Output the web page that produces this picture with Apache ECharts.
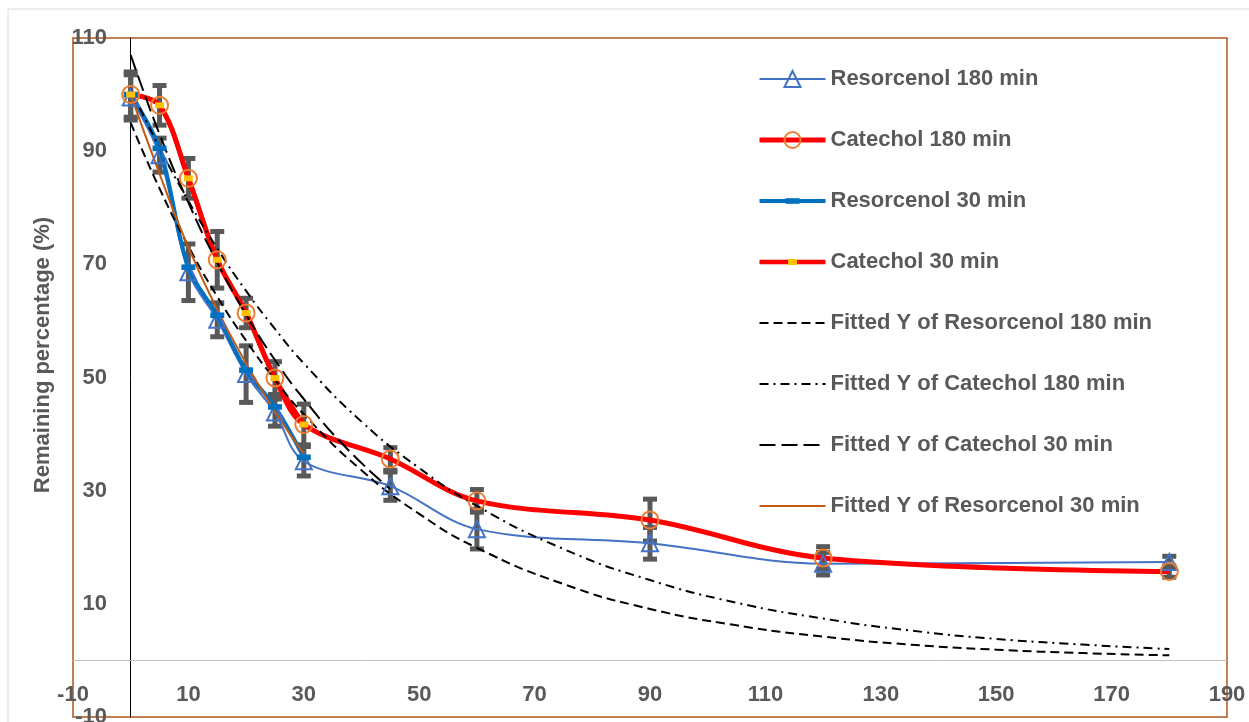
<!DOCTYPE html>
<html>
<head>
<meta charset="utf-8">
<script src="https://cdn.jsdelivr.net/npm/echarts@6/dist/echarts.min.js"></script>
<style>
html,body{margin:0;padding:0;background:#fff;}
#c{width:1249px;height:722px;}
</style>
</head>
<body>
<div id="c"></div>
<script>
// ---- data ----
const xs = [0, 5, 10, 15, 20, 25, 30, 45, 60, 90, 120, 180];
const resorcenol180 = [99.5, 89.3, 68.6, 60.2, 50.6, 43.8, 35.2, 30.8, 23.2, 20.7, 17.1, 17.4];
const catechol180 = [100, 98.1, 85.2, 70.8, 61.4, 49.9, 41.7, 35.6, 28.2, 24.8, 18.1, 15.7];
const resorcenol180Err = [4, 3, 5, 3, 5, 2.4, 2.6, 2.5, 3.5, 2.8, 2, 1];
const catechol180Err = [4, 3.5, 3.5, 5, 2.6, 2.9, 3.6, 2, 2, 3.7, 2, 1];

const xs30 = [0, 5, 10, 15, 20, 25, 30];
const resorcenol30 = [100, 90.5, 69.5, 61.0, 51.3, 44.8, 35.9];
const catechol30 = [100, 98.1, 85.2, 70.8, 61.4, 49.9, 41.7];

const fitX180 = [0, 5, 10, 15, 20, 25, 30, 40, 50, 60, 75, 90, 105, 120, 135, 150, 165, 180];
const fitResorcenol180 = [95, 83.4, 73.2, 64.3, 56.5, 49.6, 43.5, 33.6, 25.9, 19.9, 13.5, 9.1, 6.2, 4.2, 2.8, 1.9, 1.3, 0.9];
const fitCatechol180 = [101, 90.6, 81.2, 72.8, 65.3, 58.6, 52.5, 42.2, 34.0, 27.3, 19.7, 14.2, 10.2, 7.4, 5.3, 3.8, 2.8, 2.0];
const fitXCatechol30 = [0, 5, 10, 15, 20, 25, 30, 37.5, 45];
const fitCatechol30 = [107, 93.0, 80.9, 70.3, 61.1, 53.1, 46.2, 37.4, 30.3];
const fitXResorcenol30 = [0, 5, 10, 15, 20, 25, 30];
const fitResorcenol30 = [100, 86, 73, 62, 52.5, 44, 36.5];

const xTickLabels = [-10, 10, 30, 50, 70, 90, 110, 130, 150, 170, 190];
const yTickLabels = [-10, 10, 30, 50, 70, 90, 110];

const names = [
  'Resorcenol 180 min', 'Catechol 180 min', 'Resorcenol 30 min', 'Catechol 30 min',
  'Fitted Y of Resorcenol 180 min', 'Fitted Y of Catechol 180 min',
  'Fitted Y of Catechol 30 min', 'Fitted Y of Resorcenol 30 min'
];

// ---- build ----
const zip = (a, b) => a.map((v, i) => [v, b[i]]);
const zip3 = (a, b, c) => a.map((v, i) => [v, b[i], c[i]]);
const FONT = '"Liberation Sans", Arial, sans-serif';
const GRAY = '#595959';
const CLEAR = 'rgba(255,255,255,0)';
const DASH_BLUE = 'path://M0,0M16,16M1,5.2L15,5.2L15,10.8L1,10.8Z';
const DASH_YELLOW = 'path://M0,0M16,16M3.5,5L12.5,5L12.5,11L3.5,11Z';

function errRender(params, api) {
  const x = api.value(0), y = api.value(1), e = api.value(2);
  const top = api.coord([x, y + e]);
  const bot = api.coord([x, y - e]);
  const cw = 7;
  const st = { stroke: GRAY, lineWidth: 5 };
  return {
    type: 'group',
    children: [
      { type: 'line', shape: { x1: top[0], y1: top[1], x2: bot[0], y2: bot[1] }, style: st },
      { type: 'line', shape: { x1: top[0] - cw, y1: top[1], x2: top[0] + cw, y2: top[1] }, style: st },
      { type: 'line', shape: { x1: bot[0] - cw, y1: bot[1], x2: bot[0] + cw, y2: bot[1] }, style: st }
    ]
  };
}

const chart = echarts.init(document.getElementById('c'), null, { renderer: 'canvas' });
chart.setOption({
  animation: false,
  backgroundColor: '#fff',
  textStyle: { fontFamily: FONT },
  graphic: [
    { type: 'rect', shape: { x: 8, y: 9, width: 1300, height: 760 }, style: { fill: 'none', stroke: '#d9d9d9', lineWidth: 1 }, z: -10 },
    { type: 'text', x: 43, y: 355, rotation: Math.PI / 2,
      style: { text: 'Remaining percentage (%)', fill: GRAY, font: 'bold 22px ' + FONT, textAlign: 'center', textVerticalAlign: 'middle' } }
  ],
  grid: { left: 73, top: 38, right: 22, bottom: 5, show: true, borderColor: '#AE561C', borderWidth: 1.5, containLabel: false, outerBoundsMode: 'none' },
  legend: {
    orient: 'vertical', left: 757, top: 68, padding: 0,
    itemWidth: 66, itemHeight: 20, itemGap: 39,
    data: names,
    lineStyle: { width: 'inherit' },
    textStyle: { color: GRAY, fontSize: 22, fontWeight: 'bold', fontFamily: FONT, lineHeight: 22 }
  },
  xAxis: {
    type: 'value', min: -10, max: 190, interval: 10,
    axisLine: { onZero: true, lineStyle: { color: '#BFBFBF', width: 1 } },
    axisTick: { show: false },
    splitLine: { show: false },
    axisLabel: {
      margin: -33, color: GRAY, fontSize: 22, fontWeight: 'bold', fontFamily: FONT,
      showMinLabel: true, showMaxLabel: true, hideOverlap: false,
      formatter: v => xTickLabels.indexOf(v) >= 0 ? String(v) : ''
    }
  },
  yAxis: {
    type: 'value', min: -10, max: 110, interval: 10,
    axisLine: { show: true, onZero: true, lineStyle: { color: '#000', width: 1 } },
    axisTick: { show: false },
    splitLine: { show: false },
    axisLabel: {
      margin: -34, color: GRAY, fontSize: 22, fontWeight: 'bold', fontFamily: FONT,
      showMinLabel: true, showMaxLabel: true, hideOverlap: false,
      formatter: v => yTickLabels.indexOf(v) >= 0 ? String(v) : ''
    }
  },
  series: [
    { type: 'custom', name: 'errR180', renderItem: errRender, data: zip3(xs, resorcenol180, resorcenol180Err), z: 1, silent: true },
    { type: 'custom', name: 'errC180', renderItem: errRender, data: zip3(xs, catechol180, catechol180Err), z: 1, silent: true },
    {
      name: names[0], type: 'line', data: zip(xs, resorcenol180), smooth: 0.35, z: 3,
      symbol: 'triangle', symbolSize: 16,
      lineStyle: { color: '#4472C4', width: 2 },
      itemStyle: { color: CLEAR, borderColor: '#4472C4', borderWidth: 2 }
    },
    {
      name: names[1], type: 'line', data: zip(xs, catechol180), smooth: 0.35, z: 3,
      symbol: 'circle', symbolSize: 17,
      lineStyle: { color: '#FF0000', width: 5 },
      itemStyle: { color: CLEAR, borderColor: '#ED7D31', borderWidth: 2 }
    },
    {
      name: names[2], type: 'line', data: zip(xs30, resorcenol30), smooth: 0.35, z: 3,
      symbol: DASH_BLUE, symbolSize: 16, symbolKeepAspect: true,
      lineStyle: { color: '#0070C0', width: 4 },
      itemStyle: { color: '#0070C0' }
    },
    {
      name: names[3], type: 'line', data: zip(xs30, catechol30), smooth: 0.35, z: 3,
      symbol: DASH_YELLOW, symbolSize: 16, symbolKeepAspect: true,
      lineStyle: { color: '#FF0000', width: 4.5 },
      itemStyle: { color: '#FFC000' }
    },
    {
      name: names[4], type: 'line', data: zip(fitX180, fitResorcenol180), smooth: true, symbol: 'none', z: 3,
      lineStyle: { color: '#000', width: 2, type: [9, 5] }, itemStyle: { color: CLEAR }
    },
    {
      name: names[5], type: 'line', data: zip(fitX180, fitCatechol180), smooth: true, symbol: 'none', z: 3,
      lineStyle: { color: '#000', width: 2, type: [9, 5, 2, 5] }, itemStyle: { color: CLEAR }
    },
    {
      name: names[6], type: 'line', data: zip(fitXCatechol30, fitCatechol30), smooth: true, symbol: 'none', z: 3,
      lineStyle: { color: '#000', width: 2, type: [16, 6] }, itemStyle: { color: CLEAR }
    },
    {
      name: names[7], type: 'line', data: zip(fitXResorcenol30, fitResorcenol30), smooth: true, symbol: 'none', z: 3,
      lineStyle: { color: '#C55A11', width: 2 }, itemStyle: { color: CLEAR }
    }
  ]
});
</script>
</body>
</html>
